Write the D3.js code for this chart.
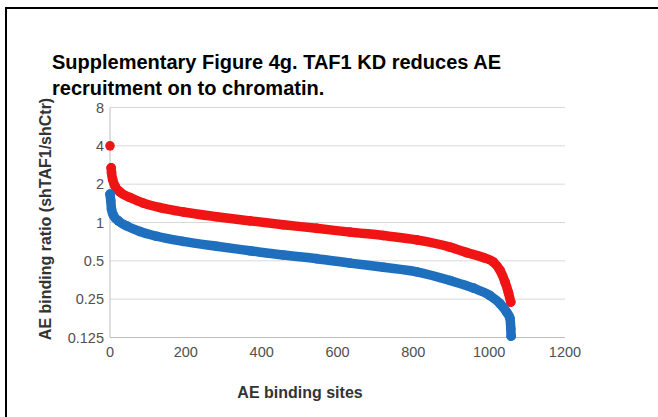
<!DOCTYPE html>
<html><head><meta charset="utf-8">
<script src="https://cdn.jsdelivr.net/npm/d3@7"></script>
<style>body{margin:0;background:#fff}svg{display:block}</style>
</head><body>
<svg id="c" width="658" height="417"></svg>
<script>
// Ranks (AE binding sites) and binding ratios
const redRanks = [0, 3, 4, 7, 13, 26, 53, 88, 132, 193, 281, 369, 457, 545, 633, 721, 809, 897, 941, 985, 1011, 1029, 1042, 1051, 1057];
const redValues = [4.0, 2.69, 2.46, 2.18, 1.94, 1.74, 1.57, 1.42, 1.31, 1.21, 1.11, 1.03, 0.96, 0.90, 0.84, 0.79, 0.73, 0.64, 0.58, 0.53, 0.49, 0.42, 0.34, 0.28, 0.237];
const blueRanks = [0, 2, 4, 9, 22, 44, 79, 123, 193, 281, 369, 457, 545, 633, 721, 809, 897, 959, 1002, 1029, 1046, 1055, 1057, 1058];
const blueValues = [1.67, 1.48, 1.27, 1.14, 1.03, 0.94, 0.85, 0.78, 0.71, 0.65, 0.60, 0.555, 0.52, 0.48, 0.445, 0.41, 0.35, 0.305, 0.267, 0.23, 0.198, 0.176, 0.147, 0.128];
const xTicks = [0, 200, 400, 600, 800, 1000, 1200];
const yTicks = [0.125, 0.25, 0.5, 1, 2, 4, 8];
const yTickLabels = ["0.125", "0.25", "0.5", "1", "2", "4", "8"];
const titleLines = ["Supplementary Figure 4g. TAF1 KD reduces AE", "recruitment on to chromatin."];
const xTitle = "AE binding sites";
const yTitle = "AE binding ratio (shTAF1/shCtr)";

const svg = d3.select("#c");
svg.append("rect").attr("x", 6).attr("y", 8).attr("width", 670).attr("height", 430)
  .attr("fill", "none").attr("stroke", "#000").attr("stroke-width", 2);

const x = d3.scaleLinear().domain([0, 1200]).range([110, 565]);
const y = d3.scaleLog().base(2).domain([0.125, 8]).range([337.5, 107.5]);

// gridlines
svg.append("g").selectAll("line").data(yTicks.slice(1)).join("line")
  .attr("x1", 110).attr("x2", 565).attr("y1", d => y(d)).attr("y2", d => y(d))
  .attr("stroke", "#d9d9d9").attr("stroke-width", 1);
// axes lines
svg.append("line").attr("x1", 110).attr("x2", 110).attr("y1", y(8)).attr("y2", y(0.125)).attr("stroke", "#bfbfbf");
svg.append("line").attr("x1", 110).attr("x2", 565).attr("y1", y(0.125)).attr("y2", y(0.125)).attr("stroke", "#bfbfbf");

const tickFont = "Liberation Sans, Arial, sans-serif";
svg.append("g").selectAll("text").data(yTicks).join("text")
  .attr("x", 104).attr("y", d => y(d)).attr("dy", "0.36em").attr("text-anchor", "end")
  .attr("font-family", tickFont).attr("font-size", 14.5).attr("fill", "#505050")
  .text((d, i) => yTickLabels[i]);
svg.append("g").selectAll("text").data(xTicks).join("text")
  .attr("x", d => x(d)).attr("y", 357).attr("text-anchor", "middle")
  .attr("font-family", tickFont).attr("font-size", 14.5).attr("fill", "#505050")
  .text(d => d);

function series(ranks, values, color) {
  const pts = ranks.map((r, i) => [r, values[i]]);
  const line = d3.line().x(d => x(d[0])).y(d => y(d[1])).curve(d3.curveMonotoneX);
  svg.append("path").attr("d", line(pts.slice(pts[0][1] === 4.0 ? 1 : 0)))
    .attr("fill", "none").attr("stroke", color).attr("stroke-width", 9.5)
    .attr("stroke-linecap", "round").attr("stroke-linejoin", "round");
  svg.append("g").selectAll("circle").data(pts).join("circle")
    .attr("cx", d => x(d[0])).attr("cy", d => y(d[1])).attr("r", 4.8).attr("fill", color);
}
series(redRanks, redValues, "#f01414");
series(blueRanks, blueValues, "#1f6fbf");

svg.append("g").selectAll("text").data(titleLines).join("text")
  .attr("x", 52).attr("y", (d, i) => 69 + i * 26)
  .attr("font-family", tickFont).attr("font-weight", "bold").attr("font-size", 20).attr("fill", "#000")
  .text(d => d);
svg.append("text").attr("x", 300).attr("y", 398).attr("text-anchor", "middle")
  .attr("font-family", tickFont).attr("font-weight", "bold").attr("font-size", 16).attr("fill", "#333")
  .text(xTitle);
svg.append("text").attr("transform", "translate(51,219) rotate(-90)").attr("text-anchor", "middle")
  .attr("font-family", tickFont).attr("font-weight", "bold").attr("font-size", 16).attr("fill", "#333")
  .text(yTitle);
</script>
</body></html>
